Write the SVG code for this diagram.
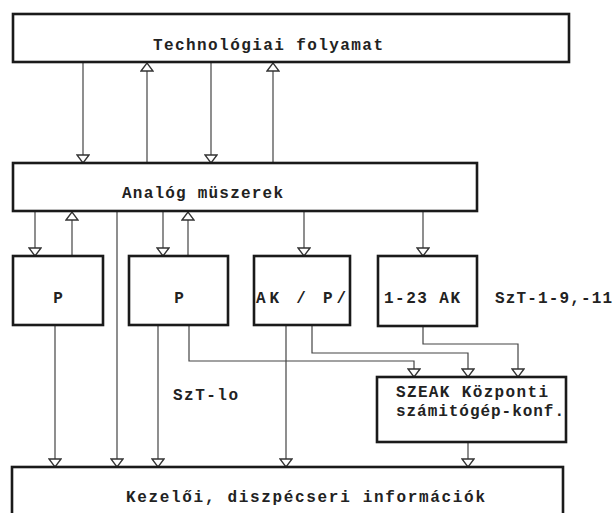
<svg xmlns="http://www.w3.org/2000/svg" width="614" height="513" viewBox="0 0 614 513">
<defs>
<marker id="ah" viewBox="-1 -1 10 14" refX="8" refY="6" markerWidth="10" markerHeight="14" markerUnits="userSpaceOnUse" orient="auto">
<path d="M0,0 L8,6 L0,12 Z" fill="#fff" stroke="#333" stroke-width="1.3" stroke-linejoin="miter"/>
</marker>
<style>
.box{fill:#fff;stroke:#1a1a1a;stroke-width:2.6}
.c{fill:none;stroke:#444;stroke-width:1.2;marker-end:url(#ah)}
.l{fill:none;stroke:#444;stroke-width:1.2}
text{font-family:"Liberation Mono","DejaVu Sans Mono",monospace;font-weight:bold;font-size:16px;fill:#222}
</style>
</defs>
<rect width="614" height="513" fill="#fff"/>
<g id="connectors">
<path class="c" d="M83,62 V163"/>
<path class="c" d="M147,163 V63"/>
<path class="c" d="M211,62 V163"/>
<path class="c" d="M273,163 V63"/>
<path class="c" d="M35,211 V256"/>
<path class="c" d="M72,256 V212"/>
<path class="c" d="M163,211 V256"/>
<path class="c" d="M188,256 V212"/>
<path class="c" d="M304,211 V256"/>
<path class="c" d="M423,211 V256"/>
<path class="c" d="M117,211 V467"/>
<path class="c" d="M55,325 V467"/>
<path class="c" d="M158,325 V467"/>
<path class="c" d="M286,325 V467"/>
<path class="c" d="M189,325 V361 H414 V377"/>
<path class="c" d="M312,325 V353 H468 V377"/>
<path class="c" d="M423,326 V344 H518 V377"/>
<path class="c" d="M468,442 V467"/>
</g>
<g id="tech">
<rect class="box" x="13" y="14" width="556" height="48"/>
<text x="153" y="50" textLength="230" lengthAdjust="spacing">Technológiai folyamat</text>
</g>
<g id="analog">
<rect class="box" x="13" y="163" width="464" height="48"/>
<text x="122" y="198" textLength="161" lengthAdjust="spacing">Analóg müszerek</text>
</g>
<g id="p1">
<rect class="box" x="13" y="256" width="90" height="69"/>
<text x="58" y="303" text-anchor="middle">P</text>
</g>
<g id="p2">
<rect class="box" x="129" y="256" width="99" height="69"/>
<text x="179" y="303" text-anchor="middle">P</text>
</g>
<g id="akp">
<rect class="box" x="254" y="256" width="96" height="69"/>
<text x="256" y="303" textLength="90" lengthAdjust="spacing">AK / P/</text>
</g>
<g id="ak23">
<rect class="box" x="378" y="256" width="99" height="70"/>
<text x="384" y="303" textLength="76" lengthAdjust="spacing">1-23 AK</text>
</g>
<g id="lbl-szt19">
<text x="495" y="303" textLength="117" lengthAdjust="spacing">SzT-1-9,-11</text>
</g>
<g id="lbl-szt10">
<text x="173" y="400" textLength="65" lengthAdjust="spacing">SzT-lo</text>
</g>
<g id="szeak">
<rect class="box" x="377" y="377" width="189" height="65"/>
<text x="396" y="397" textLength="152" lengthAdjust="spacing">SZEAK Központi</text>
<text x="396" y="416" textLength="168" lengthAdjust="spacing">számitógép-konf.</text>
</g>
<g id="kezeloi">
<rect class="box" x="12" y="467" width="551" height="60"/>
<text x="126" y="502" textLength="359" lengthAdjust="spacing">Kezelői, diszpécseri információk</text>
</g>
</svg>
